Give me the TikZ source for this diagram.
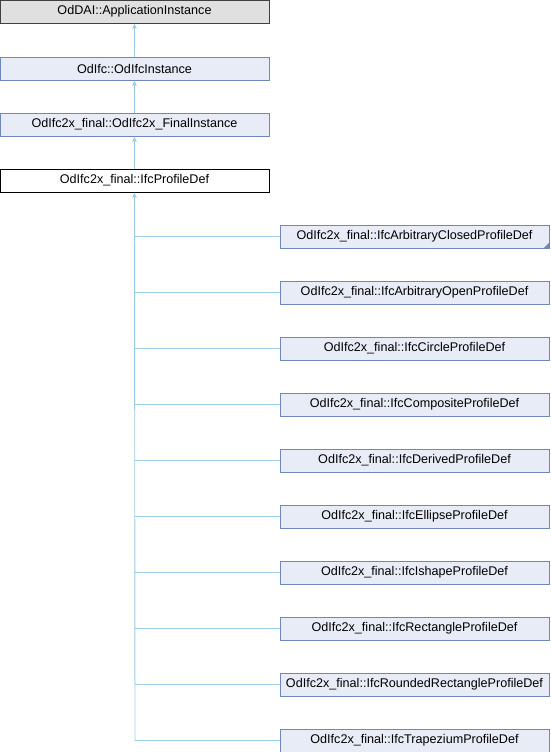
\documentclass[tikz,border=0pt]{standalone}
\usepackage{fontspec}
\setmainfont{Liberation Sans}
\usetikzlibrary{arrows.meta}
\definecolor{boxfill}{HTML}{E8ECF6}
\definecolor{boxdraw}{HTML}{6F87BE}
\definecolor{grayfill}{HTML}{E0E0E0}
\definecolor{linec}{HTML}{9CCBE8}
\begin{document}
\begin{tikzpicture}[x=1pt,y=-1pt,
  cls/.style={draw=boxdraw,fill=boxfill,line width=0.8pt,minimum width=269pt,minimum height=23pt,inner sep=0pt,font=\fontsize{12.6}{14}\selectfont},
  basecls/.style={cls,draw=black!75,fill=grayfill},
  curcls/.style={cls,draw=black,fill=white},
  inh/.style={draw=linec,line width=0.9pt,-{Latex[length=5pt,width=5pt]}}]
\useasboundingbox (0,0) rectangle (550,752);
\node[basecls] (a) at (134.5,11.5) {OdDAI::ApplicationInstance};
\node[cls] (b) at (134.5,68.5) {OdIfc::OdIfcInstance};
\node[cls] (c) at (134.5,124.5) {OdIfc2x\_final::OdIfc2x\_FinalInstance};
\node[curcls] (d) at (134.5,180.5) {OdIfc2x\_final::IfcProfileDef};
\draw[inh] (b) -- (a);
\draw[inh] (c) -- (b);
\draw[inh] (d) -- (c);
\foreach \i/\t in {0/IfcArbitraryClosedProfileDef,1/IfcArbitraryOpenProfileDef,2/IfcCircleProfileDef,3/IfcCompositeProfileDef,4/IfcDerivedProfileDef,5/IfcEllipseProfileDef,6/IfcIshapeProfileDef,7/IfcRectangleProfileDef,8/IfcRoundedRectangleProfileDef,9/IfcTrapeziumProfileDef}{
  \node[cls] (k\i) at (414.5,{236.5+56*\i}) {OdIfc2x\_final::\t};
}
\coordinate (j) at (135,740.5);
\draw[inh] (j) -- (d.south);
\foreach \i in {0,...,9}{
  \draw[draw=linec,line width=0.9pt] (k\i.west) -- (135,{236.5+56*\i});
}
\fill[boxdraw] (k0.south east) -- ++(0,-6) -- ++(-6,6) -- cycle;
\end{tikzpicture}
\end{document}
